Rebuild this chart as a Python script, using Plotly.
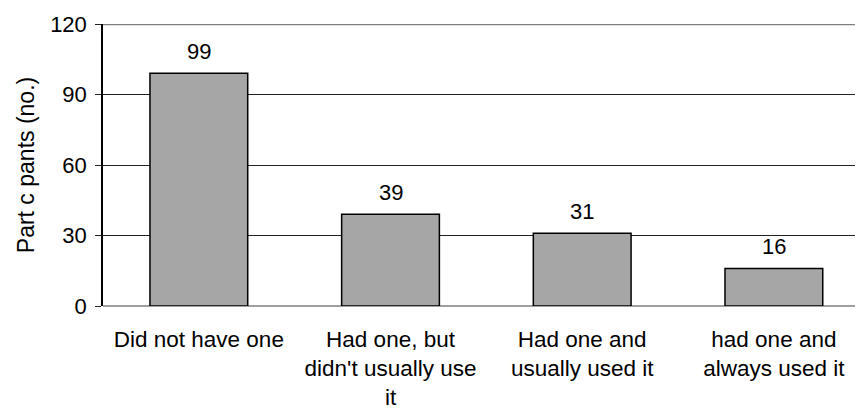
import plotly.graph_objects as go

categories = ["Did not have one", "Had one, but<br>didn't usually use<br>it",
              "Had one and<br>usually used it", "had one and<br>always used it"]
values = [99, 39, 31, 16]
y_ticks = [0, 30, 60, 90, 120]

FONT = "Liberation Sans, Arial, sans-serif"
FS = 23

fig = go.Figure()
fig.add_trace(go.Bar(
    x=list(range(len(categories))), y=values,
    width=0.51,
    marker=dict(color="#a6a6a6", line=dict(color="#000000", width=1.5)),
    hoverinfo="skip",
))
for i, v in enumerate(values):
    fig.add_annotation(x=i, y=v, text=str(v), showarrow=False,
                       yanchor="middle", yshift=22,
                       font=dict(family=FONT, size=FS - 1, color="#000"))

fig.update_layout(
    width=855, height=402,
    margin=dict(l=95, r=0, t=16, b=104),
    paper_bgcolor="white", plot_bgcolor="white",
    showlegend=False,
    font=dict(family=FONT, size=FS, color="#000"),
    xaxis=dict(
        tickmode="array", tickvals=list(range(len(categories))), ticktext=categories,
        range=[-0.5, 3.465], showgrid=False, zeroline=False,
        showline=False, ticks="", ticklabelstandoff=17,
        tickfont=dict(family=FONT, size=FS - 0.5),
    ),
    yaxis=dict(
        range=[0, 120], tickvals=y_ticks, showgrid=True, gridcolor="#222222", gridwidth=1,
        zeroline=True, zerolinecolor="#a0a0a0", zerolinewidth=2,
        showline=True, linecolor="#000000", linewidth=1.5,
        ticks="outside", ticklen=6, tickcolor="#222222", ticklabelstandoff=4,
        tickfont=dict(family=FONT, size=FS - 1),
        title=dict(text="Part c pants (no.)", font=dict(family=FONT, size=FS), standoff=9),
    ),
)
fig.add_shape(type="line", xref="paper", yref="y", x0=0, x1=1, y0=120, y1=120,
              line=dict(color="#808080", width=2.5))

fig.write_html("out.html")
